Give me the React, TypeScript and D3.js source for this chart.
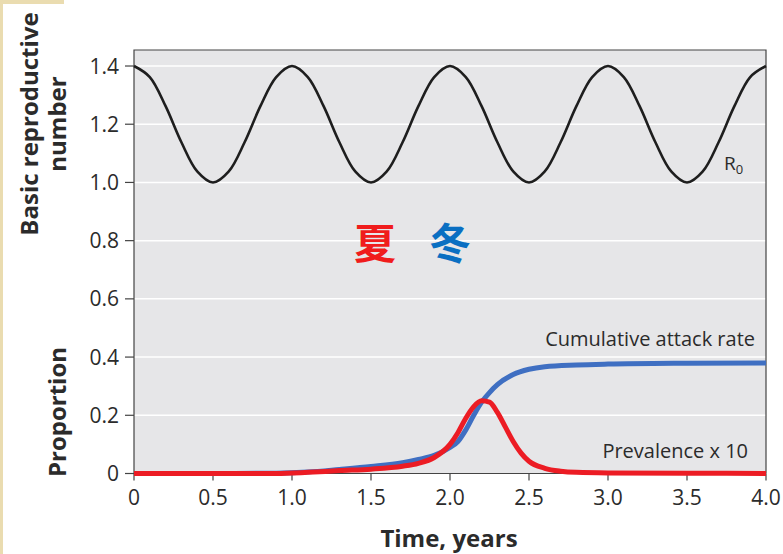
import { useMemo } from 'react'
import * as d3 from 'd3'

// R0 read every 0.1 year
const r0Times = d3.range(0, 4.0001, 0.1).map(t => +t.toFixed(2))
const r0Values = [
  1.4, 1.362, 1.262, 1.138, 1.038, 1.0, 1.038, 1.138, 1.262, 1.362,
  1.4, 1.362, 1.262, 1.138, 1.038, 1.0, 1.038, 1.138, 1.262, 1.362,
  1.4, 1.362, 1.262, 1.138, 1.038, 1.0, 1.038, 1.138, 1.262, 1.362,
  1.4, 1.362, 1.262, 1.138, 1.038, 1.0, 1.038, 1.138, 1.262, 1.362,
  1.4
]

const attackTimes = [0, 0.5, 0.9, 1.1, 1.3, 1.5, 1.7, 1.8, 1.9, 2.0, 2.05, 2.1, 2.15, 2.2, 2.25, 2.3, 2.4, 2.5, 2.6, 2.8, 3.0, 3.5, 4.0]
const attackValues = [0, 0, 0.001, 0.005, 0.014, 0.024, 0.037, 0.048, 0.062, 0.09, 0.11, 0.15, 0.2, 0.245, 0.278, 0.305, 0.34, 0.358, 0.367, 0.373, 0.376, 0.379, 0.38]

const prevTimes = [0, 0.9, 1.1, 1.3, 1.5, 1.7, 1.8, 1.9, 2.0, 2.05, 2.1, 2.15, 2.2, 2.25, 2.3, 2.35, 2.4, 2.45, 2.5, 2.6, 2.7, 2.8, 3.0, 3.5, 4.0]
const prevValues = [0, 0, 0.004, 0.01, 0.015, 0.025, 0.035, 0.055, 0.1, 0.14, 0.19, 0.23, 0.25, 0.245, 0.21, 0.16, 0.11, 0.07, 0.042, 0.018, 0.008, 0.004, 0.002, 0.001, 0]

const xTicks = [0, 0.5, 1.0, 1.5, 2.0, 2.5, 3.0, 3.5, 4.0]
const xTickLabels = ['0', '0.5', '1.0', '1.5', '2.0', '2.5', '3.0', '3.5', '4.0']
const yTicks = [0, 0.2, 0.4, 0.6, 0.8, 1.0, 1.2, 1.4]
const yTickLabels = ['0', '0.2', '0.4', '0.6', '0.8', '1.0', '1.2', '1.4']

const FONT = '"Open Sans", "Noto Sans", sans-serif'
const TEXT = '#2b2b2b'

export default function App() {
  const W = 783
  const H = 554
  const left = 134
  const right = 766
  const top = 50
  const bottom = 473.5

  const x = d3.scaleLinear().domain([0, 4]).range([left, right])
  const y = d3.scaleLinear().domain([0, 1.455]).range([bottom, top])

  const paths = useMemo(() => {
    const lineR0 = d3.line<number>()
      .x((_, i) => x(r0Times[i]))
      .y(d => y(d))
      .curve(d3.curveCatmullRom)
    const lineAttack = d3.line<number>()
      .x((_, i) => x(attackTimes[i]))
      .y(d => y(d))
      .curve(d3.curveMonotoneX)
    const linePrev = d3.line<number>()
      .x((_, i) => x(prevTimes[i]))
      .y(d => y(d))
      .curve(d3.curveMonotoneX)
    return {
      r0: lineR0(r0Values) || '',
      attack: lineAttack(attackValues) || '',
      prev: linePrev(prevValues) || ''
    }
  }, [])

  return (
    <svg width={W} height={H} style={{ position: 'absolute', left: 0, top: 0, background: '#fff' }}>
      {/* page edge decoration */}
      <rect x={0} y={0} width={3} height={H} fill="#eadcb0" />
      <rect x={0} y={0} width={64} height={4} fill="#eadcb0" />

      {/* plot background */}
      <rect x={left} y={top} width={right - left} height={bottom - top} fill="#e6e6e8" />
      {yTicks.slice(1).map(t => (
        <line key={t} x1={left} x2={right} y1={y(t)} y2={y(t)} stroke="#fff" strokeWidth={1.5} />
      ))}
      <path d={`M${left},${bottom}V${top}H${right}V${bottom}`} fill="none" stroke="#444" strokeWidth={1.2} />
      <line x1={left - 9} x2={right} y1={bottom} y2={bottom} stroke="#444" strokeWidth={1.2} />

      {/* y axis */}
      {yTicks.map((t, i) => (
        <g key={t}>
          <line x1={left - 9} x2={left} y1={y(t)} y2={y(t)} stroke="#444" strokeWidth={1.2} />
          <text x={left - 15} y={y(t)} dy="0.36em" textAnchor="end" fontFamily={FONT} fontSize={21} fill={TEXT}>
            {yTickLabels[i]}
          </text>
        </g>
      ))}

      {/* x axis */}
      {xTicks.map((t, i) => (
        <g key={t}>
          <line x1={x(t)} x2={x(t)} y1={bottom} y2={bottom + 7} stroke="#444" strokeWidth={1.2} />
          <text x={x(t)} y={bottom + 31} textAnchor="middle" fontFamily={FONT} fontSize={21} fill={TEXT}>
            {xTickLabels[i]}
          </text>
        </g>
      ))}

      {/* axis titles */}
      <text x={449} y={547} textAnchor="middle" fontFamily={FONT} fontSize={24} fontWeight="bold" fill={TEXT}>
        Time, years
      </text>
      <text transform="translate(38,124) rotate(-90)" textAnchor="middle" fontFamily={FONT} fontSize={24} fontWeight="bold" fill={TEXT}>
        Basic reproductive
      </text>
      <text transform="translate(66,124) rotate(-90)" textAnchor="middle" fontFamily={FONT} fontSize={24} fontWeight="bold" fill={TEXT}>
        number
      </text>
      <text transform="translate(66,412) rotate(-90)" textAnchor="middle" fontFamily={FONT} fontSize={24} fontWeight="bold" fill={TEXT}>
        Proportion
      </text>

      {/* curves */}
      <path d={paths.r0} fill="none" stroke="#1e1e1e" strokeWidth={2.6} />
      <path d={paths.attack} fill="none" stroke="#3f6fc2" strokeWidth={5} />
      <path d={paths.prev} fill="none" stroke="#ec1c24" strokeWidth={5} />

      {/* labels */}
      <text x={724} y={170} fontFamily={FONT} fontSize={19} fill={TEXT}>
        R<tspan fontSize={13} dy={4}>0</tspan>
      </text>
      <text x={755} y={346} textAnchor="end" fontFamily={FONT} fontSize={20} fill={TEXT}>
        Cumulative attack rate
      </text>
      <text x={748} y={458} textAnchor="end" fontFamily={FONT} fontSize={20} fill={TEXT}>
        Prevalence x 10
      </text>

      <text x={375} y={259} textAnchor="middle" fontFamily='"Noto Sans CJK SC", sans-serif' fontSize={42} fontWeight="bold" fill="#f01c1c">
        夏
      </text>
      <text x={450} y={259} textAnchor="middle" fontFamily='"Noto Sans CJK SC", sans-serif' fontSize={42} fontWeight="bold" fill="#0a6fc2">
        冬
      </text>
    </svg>
  )
}
